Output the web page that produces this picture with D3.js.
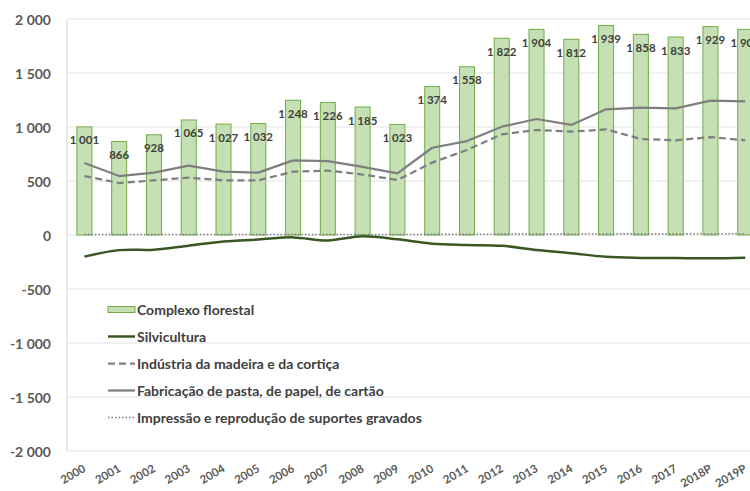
<!DOCTYPE html>
<html>
<head>
<meta charset="utf-8">
<script src="https://cdn.jsdelivr.net/npm/d3@7"></script>
<style>
  html, body { margin: 0; padding: 0; background: #ffffff; }
  svg { display: block; font-family: Lato, "Open Sans", sans-serif; }
</style>
</head>
<body>
<svg id="chart" width="750" height="491"></svg>
<script>
// Anos
const years = ["2000","2001","2002","2003","2004","2005","2006","2007","2008","2009",
               "2010","2011","2012","2013","2014","2015","2016","2017","2018P","2019P"];

// Complexo florestal (barras)
const complexo = [1001, 866, 928, 1065, 1027, 1032, 1248, 1226, 1185, 1023,
                  1374, 1558, 1822, 1904, 1812, 1939, 1858, 1833, 1929, 1904];

// Silvicultura
const silvicultura = [-200, -140, -136, -99, -60, -42, -22, -50, -12, -40,
                      -80, -92, -100, -138, -168, -202, -212, -214, -216, -210];

// Indústria da madeira e da cortiça
const industria = [546, 481, 506, 531, 506, 506, 586, 596, 560, 509,
                   670, 787, 932, 972, 957, 978, 889, 877, 907, 877];

// Fabricação de pasta, de papel, de cartão
const fabricacao = [667, 546, 577, 642, 586, 577, 691, 685, 630, 571,
                    808, 870, 1003, 1074, 1019, 1164, 1179, 1173, 1244, 1238];

// Impressão e reprodução de suportes gravados
const impressao = [4, 4, 4, 4, 4, 4, 4, 4, 4, 4,
                   6, 6, 8, 8, 8, 10, 10, 10, 12, 12];

// Escala vertical
const yTicks = [-2000, -1500, -1000, -500, 0, 500, 1000, 1500, 2000];

const legendItems = [
  { name: "Complexo florestal", kind: "bar" },
  { name: "Silvicultura", kind: "line", color: "#385723", width: 2.5, dash: null },
  { name: "Indústria da madeira e da cortiça", kind: "line", color: "#7f7f7f", width: 2.25, dash: "7,4" },
  { name: "Fabricação de pasta, de papel, de cartão", kind: "line", color: "#7f7f7f", width: 2.25, dash: null },
  { name: "Impressão e reprodução de suportes gravados", kind: "line", color: "#7f7f7f", width: 1.5, dash: "1.5,2" }
];

const svg = d3.select("#chart");
const plotLeft = 67, plotTop = 19, plotBottom = 451, step = 34.78;

const x = d3.scaleBand().domain(years).range([plotLeft, plotLeft + step * years.length]).padding(0);
const y = d3.scaleLinear().domain([-2000, 2000]).range([plotBottom, plotTop]);
const cx = d => x(d) + x.bandwidth() / 2;
const barW = 15;

// Grelha horizontal
svg.append("g").selectAll("line").data(yTicks).join("line")
  .attr("x1", plotLeft).attr("x2", 750)
  .attr("y1", d => y(d)).attr("y2", d => y(d))
  .attr("stroke", "#e3e3e3").attr("stroke-width", 1.2);

// Eixo vertical
svg.append("line")
  .attr("x1", plotLeft).attr("x2", plotLeft).attr("y1", plotTop).attr("y2", plotBottom)
  .attr("stroke", "#d9d9d9").attr("stroke-width", 1.2);

// Rótulos do eixo Y
const fmt = v => {
  const s = Math.abs(v).toString().replace(/\B(?=(\d{3})+(?!\d))/g, " ");
  return (v < 0 ? "-" : "") + s;
};
svg.append("g").selectAll("text").data(yTicks).join("text")
  .attr("x", 51).attr("y", d => y(d))
  .attr("text-anchor", "end").attr("dominant-baseline", "central")
  .attr("font-size", 14).attr("font-weight", 700).attr("fill", "#595959")
  .text(fmt);

// Rótulos do eixo X
svg.append("g").selectAll("text").data(years).join("text")
  .attr("transform", d => `translate(${cx(d)},${467}) rotate(-30)`)
  .attr("text-anchor", "end").attr("dominant-baseline", "central")
  .attr("font-size", 11.5).attr("font-weight", 700).attr("fill", "#595959")
  .text(d => d);

// Barras
svg.append("g").selectAll("rect").data(complexo).join("rect")
  .attr("x", (d, i) => cx(years[i]) - barW / 2)
  .attr("width", barW)
  .attr("y", d => y(d))
  .attr("height", d => y(0) - y(d))
  .attr("fill", "#c5e0b4").attr("stroke", "#70ad47").attr("stroke-width", 1);

// Séries de linhas
const lineGen = (curve) => d3.line()
  .x((d, i) => cx(years[i]))
  .y(d => y(d))
  .curve(curve);

const series = [
  { data: impressao, color: "#7f7f7f", width: 1.6, dash: "1.5,2", curve: d3.curveLinear },
  { data: industria, color: "#7f7f7f", width: 2.25, dash: "7,4", curve: d3.curveLinear },
  { data: fabricacao, color: "#7f7f7f", width: 2.25, dash: null, curve: d3.curveLinear },
  { data: silvicultura, color: "#385723", width: 2.5, dash: null, curve: d3.curveCatmullRom.alpha(0.5) }
];
series.forEach(s => {
  svg.append("path")
    .datum(s.data)
    .attr("d", lineGen(s.curve))
    .attr("fill", "none")
    .attr("stroke", s.color)
    .attr("stroke-width", s.width)
    .attr("stroke-dasharray", s.dash)
    .attr("stroke-linejoin", "round");
});

// Valores das barras
svg.append("g").selectAll("text").data(complexo).join("text")
  .attr("x", (d, i) => cx(years[i]))
  .attr("y", d => y(d) + 13)
  .attr("text-anchor", "middle").attr("dominant-baseline", "central")
  .attr("font-size", 11.5).attr("font-weight", 700).attr("fill", "#404040")
  .text(d => fmt(d));

// Legenda
const lg = svg.append("g");
legendItems.forEach((it, i) => {
  const ly = 309.5 + i * 27;
  if (it.kind === "bar") {
    lg.append("rect").attr("x", 108).attr("y", ly - 3).attr("width", 27).attr("height", 6)
      .attr("fill", "#c5e0b4").attr("stroke", "#70ad47").attr("stroke-width", 1);
  } else {
    lg.append("line").attr("x1", 108).attr("x2", 135).attr("y1", ly).attr("y2", ly)
      .attr("stroke", it.color).attr("stroke-width", it.width)
      .attr("stroke-dasharray", it.dash);
  }
  lg.append("text").attr("x", 137).attr("y", ly)
    .attr("dominant-baseline", "central")
    .attr("font-size", 14).attr("font-weight", 700).attr("fill", "#404040")
    .text(it.name);
});
</script>
</body>
</html>
